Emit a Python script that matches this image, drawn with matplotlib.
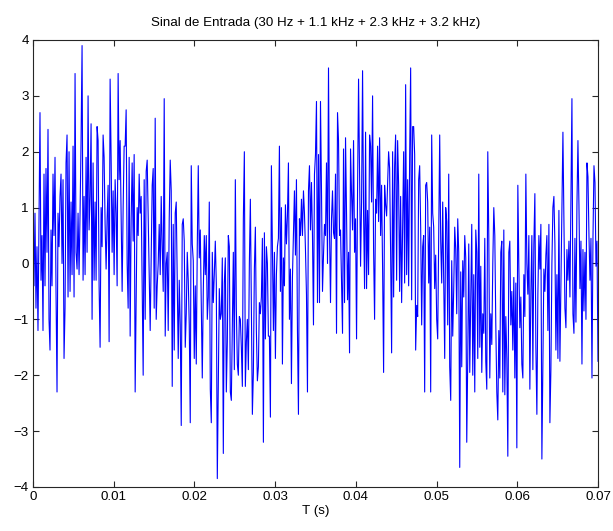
import numpy as np
import matplotlib
matplotlib.use("Agg")
import matplotlib.pyplot as plt

# amostras, em blocos de ~0.006 s
bloco1 = [0.5, -0.4, 0.9, -0.8, 0.3, -1.2, 0.8, 2.7, -0.3, 0.5,
          -1.2, 1.6, -0.4, 1.7, 0.2, 2.4, -1.0, -1.55, 0.6, -0.4,
          1.6, 0.5, 1.9, -0.5, -2.3, 0.9, 0.3, 1.2, 1.6, 0.0,
          1.5, -1.7, -0.8, 1.8, 2.3, -0.6, 2.0, -0.5, 1.1, -0.2,
          2.1, -0.6, 3.4, 0.2]
bloco2 = [-0.1, 0.9, -0.2, 0.9, 2.2, 3.9, -0.3, 1.2, -0.2, 1.9,
          0.2, 3.0, 0.6, 1.2, 2.5, -1.0, 1.8, -0.3, 1.1, -0.3, 2.45,
          2.2, -0.4, -1.5, 1.0, 0.3, 2.3, 1.9, 0.7, -0.1, 0.8,
          1.4, -1.4, 3.3, 1.9, 0.2, 1.3, -0.2, 1.5, 0.9, -0.4, 3.4,
          1.5, 2.2, 0.9, -0.5, 1.0, 2.1]
bloco3 = [2.1, 2.75, 0.0, -0.8, 1.9, -1.3, 0.8, 1.8, 0.4, 1.95,
          -2.3, -0.6, 1.0, 0.5, 1.6, 0.9, 1.2, -0.4, -2.0, 1.5, -1.0,
          1.65, 1.85, 0.8, -0.2, -1.2, 0.1, 1.4, 1.7, -0.8, 2.6,
          -1.0, -0.4, 0.0, 0.7, -0.2, 1.2, 0.3, -0.5, 2.95, -1.3, 0.0,
          0.2, -1.2, 0.8, 1.85, 1.3, -2.2]
bloco4 = [0.7, -1.55, 0.9, 1.1, -0.3, -1.7, -0.3, -1.1, -2.9, 0.7,
          0.8, 0.4, -1.5, -0.9, 0.2, -0.3, -1.1, -2.85, 1.75, 0.35, 0.05,
          -1.7, -0.4, -1.8, 0.3, 1.75, 0.1, 0.6, -0.8, -2.05, -0.5,
          0.5, -0.2, 0.5, -1.0, -0.6, 1.1, -2.25, -2.85, 0.2, -0.7, -0.2,
          0.4, -0.35, -3.85, -2.15, -0.45, -1.0]
bloco5 = [-0.9, 0.1, -3.4, -0.35, 0.1, -2.3, -1.4, 0.5, 0.3, -2.3,
          -2.45, -1.15, 0.2, -1.9, 1.5, -0.8, -1.8, -2.0, -0.95, -1.0, -1.5,
          -2.2, 0.8, 2.0, -2.2, -1.4, -1.0, -1.9, 0.0, 1.15, -0.85,
          -2.7, -1.95, -0.1, 0.65, -1.2, -2.1, -1.85, -0.7, -0.9, -0.6, 0.45,
          -3.2, 0.55, -1.35, 0.3, 0.0, -1.3]
bloco6 = [-1.3, -2.75, 1.75, 0.35, -1.2, 0.2, -1.7, -0.2, 0.3, 0.45,
          2.1, -0.5, 1.0, -1.8, 0.1, -0.4, 1.05, 0.35, 0.85, 1.8, -1.0,
          -0.1, -2.15, -0.25, 0.5, 1.3, 0.15, 1.5, -1.2, -2.7, 0.8,
          0.5, 1.15, 0.5, 1.3, 0.9, 0.25, -0.55, -2.3, 1.3, 1.75, 0.6,
          1.45, 0.5, -1.1, 1.6, 1.95, 2.9]
bloco7 = [-0.7, 1.95, -0.7, 2.9, 1.3, -0.5, 0.15, 0.7, 0.5, 1.8,
          0.0, 3.5, 0.6, -0.7, 0.8, 1.3, 0.55, 0.45, 1.6, -1.25, 2.7,
          2.2, 0.5, 0.6, -0.3, -1.25, 2.05, -0.7, 2.25, 0.9, -0.65,
          0.2, -1.6, 2.05, 1.25, 0.6, 2.2, 0.2, 0.8, -1.35, 1.3, 3.3,
          1.6, -0.05, 1.1, 3.45, 0.9, -0.45]
bloco8 = [2.35, -0.45, 0.95, -0.2, 2.3, 2.1, 1.1, 3.0, 0.25, -1.0,
          1.15, 0.9, 2.1, 0.75, 2.25, 0.5, 1.4, -0.1, -1.95, 1.4, 1.05,
          0.85, 1.45, 2.0, 1.7, 0.2, -1.6, 2.0, -0.6, 1.75, 2.3,
          -0.3, 2.2, 1.4, -0.5, 1.2, -0.7, 0.65, 2.0, -0.35, 3.2, -0.2,
          1.5, -0.4, 1.9, 3.5, -0.65, 2.45]
bloco9 = [2.45, 1.95, -1.55, -0.75, -0.95, 1.5, 1.75, 0.65, -1.1, 0.3,
          0.5, -2.3, 1.4, 1.45, 1.1, -0.35, 0.65, -2.3, 2.3, 0.9,
          0.65, -0.45, 0.15, -1.0, -1.35, 0.5, 2.3, 0.4, -0.35, 1.1,
          -0.25, -1.7, 1.0, 0.75, -1.1, 1.6, -1.85, -2.45, 0.05, -1.3,
          -0.45, 0.65, 0.25, -0.9, 0.8, 0.2, -3.65, -0.15]
bloco10 = [-1.85, 0.05, -0.6, 0.5, 0.1, -3.2, -1.7, 0.35, -1.95, -0.6,
           0.7, -2.0, -0.2, -2.3, 0.6, 0.2, -1.7, 1.6, -1.5, -0.05,
           -1.95, -0.9, -1.25, 0.45, -1.75, -2.25, 2.0, 0.5, -2.05, -0.9,
           -1.45, 0.0, 1.0, 0.5, -1.1, -2.3, -2.8, -1.2, -2.05, 0.2,
           0.4, -2.3, 0.6, -2.35, -0.95, -1.7, -3.45, 0.2, 0.4, -1.1]
bloco11 = [-0.5, -1.55, -0.25, -2.05, -0.35, -3.3, 1.4, -0.05, -1.15, -0.6,
           -1.8, -2.05, -0.2, -0.95, 1.6, 0.0, -0.55, 0.5, -2.25, -0.55,
           0.5, -1.9, 0.35, 1.25, -1.5, -2.7, -0.55, 0.5, -0.1, 0.7,
           -3.5, -1.75, -0.1, -0.5, 0.15, 0.5, -1.2, 0.7, -2.85, -1.9,
           0.0, 1.0, 1.2, 0.35, -1.55, -0.2, -1.7, 0.95]
bloco12 = [-1.75, -0.4, 0.9, 2.35, 0.8, -0.8, -1.15, 0.25, -0.3,
           0.4, -0.6, 1.2, 2.95, -0.9, -1.25, 0.45, -1.05, 1.05,
           2.2, 1.05, -0.45, 0.4, -1.8, 0.25, -0.85, 0.2, -1.0, 1.8,
           1.55, 0.5, -0.3, 0.45, -2.05, 0.45, 1.75, 1.45, -0.05,
           0.4, -1.75]

sinal = (bloco1 + bloco2 + bloco3 + bloco4 + bloco5 + bloco6 + bloco7
         + bloco8 + bloco9 + bloco10 + bloco11 + bloco12)
t_fim = 0.07
# instantes de amostragem uniformes no intervalo
tempo = np.linspace(0, t_fim, len(sinal))

x_ticks = [0, 0.01, 0.02, 0.03, 0.04, 0.05, 0.06, 0.07]
x_labels = ['0', '0.01', '0.02', '0.03', '0.04', '0.05', '0.06', '0.07']
y_ticks = [-4, -3, -2, -1, 0, 1, 2, 3, 4]

plt.rcParams['font.family'] = ['Liberation Sans', 'DejaVu Sans']
plt.rcParams['font.size'] = 9.6

fig = plt.figure(figsize=(6.13, 5.31), dpi=100)
ax = fig.add_axes([0.0538, 0.0829, 0.9217, 0.8418])

ax.plot(tempo, sinal, color='#0000ff', linewidth=0.8)

ax.set_xlim(0, t_fim)
ax.set_ylim(-4, 4)
ax.set_xticks(x_ticks)
ax.set_xticklabels(x_labels)
ax.set_yticks(y_ticks)
ax.tick_params(direction='in', top=True, right=True, length=4, width=0.8,
               color='#262626', labelcolor='black', pad=3)
for lado in ax.spines.values():
    lado.set_color('#262626')
    lado.set_linewidth(0.8)

ax.set_title('Sinal de Entrada (30 Hz + 1.1 kHz + 2.3 kHz + 3.2 kHz)', fontsize=9.6, pad=10)
ax.set_xlabel('T (s)', labelpad=1)

fig.savefig('out.png', dpi=100, facecolor='white')
